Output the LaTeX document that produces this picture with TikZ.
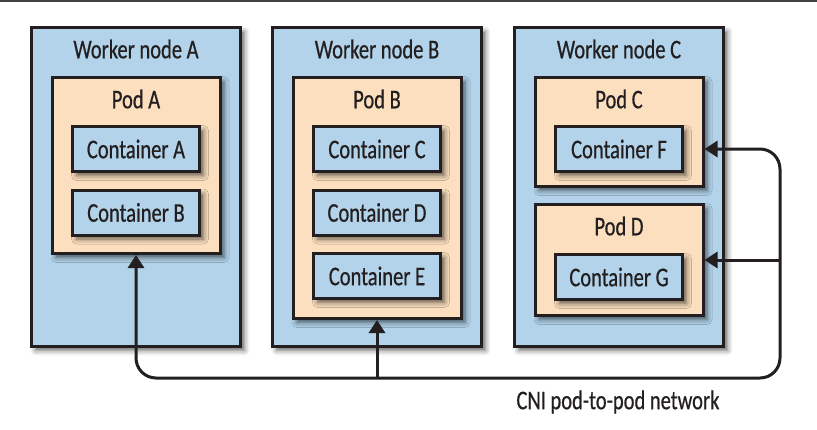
\documentclass[tikz,border=0pt]{standalone}
\usepackage{fontspec}
\setmainfont{Carlito}[FakeStretch=0.76, FakeBold=0.6]
\usetikzlibrary{arrows.meta,shadows.blur}
\definecolor{bluebox}{HTML}{B2D3EA}
\definecolor{podfill}{HTML}{FCDFBF}
\definecolor{ink}{HTML}{231F20}
\tikzset{
  >={Triangle[length=13pt,width=16pt]},
  every node/.style={font=\fontsize{27}{30}\selectfont, text=ink},
  shade/.style={blur shadow={shadow xshift=4pt, shadow yshift=-4pt, shadow blur radius=5pt, shadow opacity=60}},
  worker/.style={draw=ink, fill=bluebox, line width=3pt, shade, minimum width=209pt, minimum height=319pt,
    label={[anchor=center, label distance=-23pt]north:#1}},
  pod/.style={draw=ink, fill=podfill, line width=3pt, shade, minimum width=168pt,
    label={[anchor=center, label distance=-23pt]north:#1}},
  box/.style={draw=ink, fill=bluebox, line width=3pt, shade, minimum width=127pt, minimum height=45pt, inner sep=0pt}
}
\begin{document}
\begin{tikzpicture}[x=1pt, y=-1pt, node distance=63.5pt]
  \useasboundingbox (0,0) rectangle (817,429);
  \draw[ink!85, line width=1.5pt] (0,1) -- (817,1);
  \node(wa)[worker=Worker node A] at (136,187) {};
  \node(wb)[worker=Worker node B, right of=wa, node distance=241pt] {};
  \node(wc)[worker=Worker node C, right of=wb, node distance=242pt] {};
  \node(pa)[pod=Pod A, minimum height=176pt] at (136,165.5) {};
  \node(pb)[pod=Pod B, minimum height=241pt] at (377,198) {};
  \node(pc)[pod=Pod C, minimum height=109pt] at (619,132) {};
  \node(pd)[pod=Pod D, minimum height=111pt] at (619,260) {};
  \node(ca)[box] at (136,149) {Container A};
  \node(cb)[box, below of=ca] {Container B};
  \node(cc)[box] at (377,149) {Container C};
  \node(cd)[box, below of=cc] {Container D};
  \node(ce)[box, below of=cd] {Container E};
  \node(cf)[box] at (619,149) {Container F};
  \node(cg)[box] at (619,277) {Container G};
  \coordinate (br) at (780,378);
  \draw[<->, ink, line width=3pt, rounded corners=20pt] (cf -| pc.east) -| (br) -| (pa.south);
  \draw[->, ink, line width=3pt] (pd.east -| br) -- (pd.east);
  \draw[->, ink, line width=3pt] (pb.south |- br) -- (pb.south);
  \node(cni) at (618,402) {CNI pod-to-pod network};
\end{tikzpicture}
\end{document}
